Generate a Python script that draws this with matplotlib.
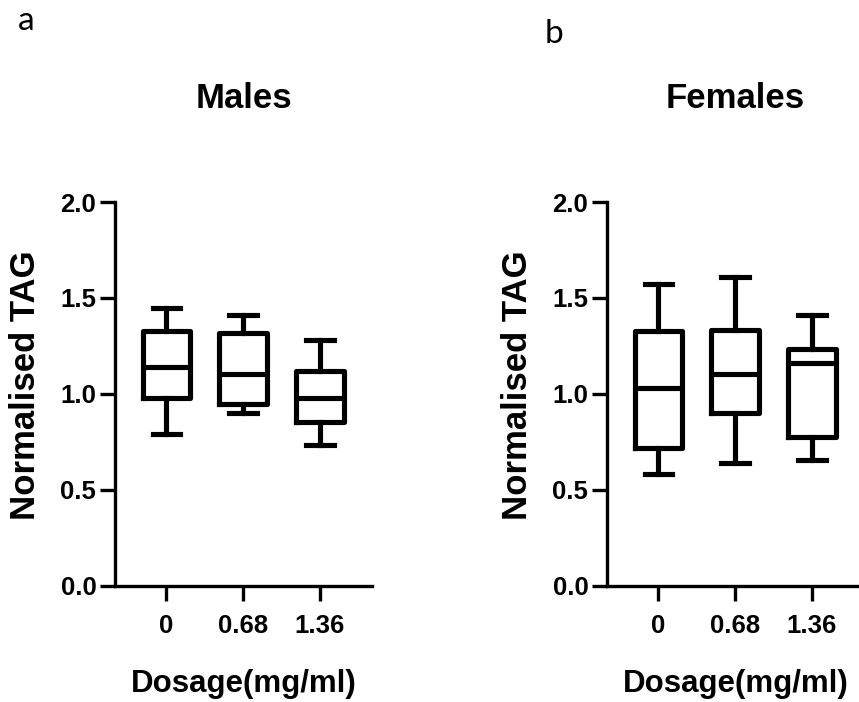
import matplotlib
matplotlib.use("Agg")
import matplotlib.pyplot as plt

categories = ["0", "0.68", "1.36"]
titles = ["Males", "Females"]
panel_letters = ["a", "b"]
y_ticks = [0.0, 0.5, 1.0, 1.5, 2.0]
y_tick_labels = ["0.0", "0.5", "1.0", "1.5", "2.0"]

males_whislo = [0.79, 0.90, 0.735]
males_q1 = [0.98, 0.948, 0.855]
males_med = [1.14, 1.105, 0.98]
males_q3 = [1.33, 1.315, 1.12]
males_whishi = [1.45, 1.41, 1.28]

females_whislo = [0.58, 0.64, 0.655]
females_q1 = [0.72, 0.90, 0.775]
females_med = [1.03, 1.105, 1.16]
females_q3 = [1.33, 1.335, 1.235]
females_whishi = [1.575, 1.61, 1.41]

groups = [
    (males_whislo, males_q1, males_med, males_q3, males_whishi),
    (females_whislo, females_q1, females_med, females_q3, females_whishi),
]

plt.rcParams['font.family'] = ['Liberation Sans', 'DejaVu Sans']
fig = plt.figure(figsize=(8.59, 7.02), dpi=100)

W, H = 859, 702
axes_px = [(115, 202, 257, 383.7), (607, 202, 257, 383.7)]
letter_pos = [(26, 21), (554, 34)]

lw_box = 3.7
for i, (l, t, w, h) in enumerate(axes_px):
    ax = fig.add_axes([l / W, 1 - (t + h) / H, w / W, h / H])
    lo, q1, med, q3, hi = groups[i]
    stats = []
    for k in range(len(categories)):
        stats.append(dict(whislo=lo[k], q1=q1[k], med=med[k], q3=q3[k],
                          whishi=hi[k], fliers=[], label=categories[k]))
    ax.bxp(stats, positions=range(len(categories)), widths=0.62,
           capwidths=0.36, showfliers=False,
           boxprops=dict(color='black', linewidth=lw_box),
           whiskerprops=dict(color='black', linewidth=lw_box),
           capprops=dict(color='black', linewidth=lw_box),
           medianprops=dict(color='black', linewidth=lw_box),
           manage_ticks=False)
    ax.set_xlim(-0.67, 2.68)
    ax.set_ylim(0, 2.0)
    ax.set_xticks(range(len(categories)))
    ax.set_xticklabels(categories, fontsize=18.5, fontweight='bold')
    ax.set_yticks(y_ticks)
    ax.set_yticklabels(y_tick_labels, fontsize=18.5, fontweight='bold')
    for s in ['top', 'right']:
        ax.spines[s].set_visible(False)
    for s in ['left', 'bottom']:
        ax.spines[s].set_linewidth(2.4)
    ax.tick_params(axis='both', width=2.4, length=10.5, color='black')
    ax.tick_params(axis='y', pad=3)
    ax.tick_params(axis='x', pad=10)
    ax.set_ylabel("Normalised TAG", fontsize=25, fontweight='bold')
    ax.yaxis.set_label_coords(-0.285, 0.523)
    ax.set_xlabel("Dosage(mg/ml)", fontsize=22.5, fontweight='bold')
    ax.xaxis.set_label_coords(0.5, -0.218)
    ax.set_title(titles[i], fontsize=25, fontweight='bold', pad=68)
    fig.text(letter_pos[i][0] / W, 1 - letter_pos[i][1] / H, panel_letters[i],
             fontsize=24, family='Lato', ha='center', va='center')

fig.savefig("out.png", dpi=100)
